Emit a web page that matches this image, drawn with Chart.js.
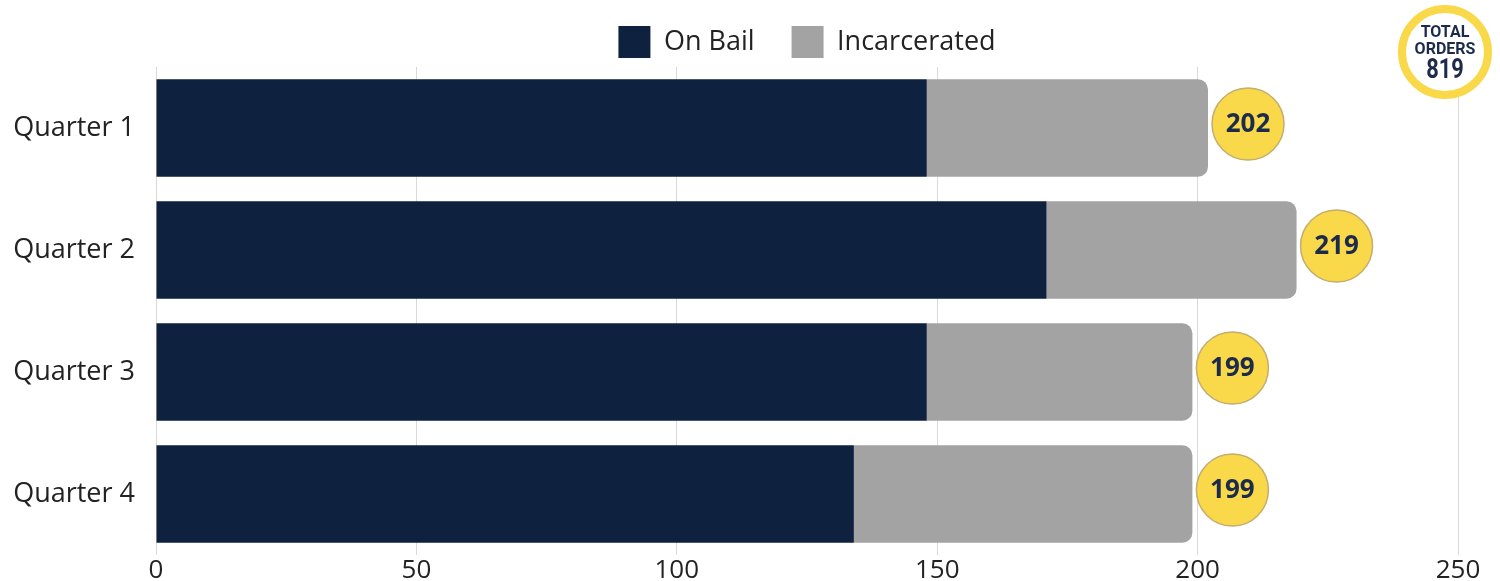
<!DOCTYPE html>
<html>
<head>
<meta charset="utf-8">
<title>Orders by quarter</title>
<script src="https://cdn.jsdelivr.net/npm/chart.js@4"></script>
<style>
  html, body { margin: 0; padding: 0; background: #fff; }
</style>
</head>
<body>
<canvas id="ordersChart" width="1500" height="581"></canvas>
<script>
const categories = ["Quarter 1", "Quarter 2", "Quarter 3", "Quarter 4"];
const onBail = [148, 171, 148, 134];
const incarcerated = [54, 48, 51, 65];
const axisMin = 0;
const axisMax = 250;
const axisStep = 50;

const NAVY = "#0e213f";
const GREY = "#a3a3a3";
const YELLOW = "#f9d94a";
const INK = "#1c2b4b";
const FONT = "'Open Sans', sans-serif";

// yellow bubble with the quarter total, just past the end of each bar
const totalBubbles = {
    id: "totalBubbles",
    afterDatasetsDraw(chart) {
        const ctx = chart.ctx;
        const xScale = chart.scales.x;
        const yScale = chart.scales.y;
        ctx.save();
        categories.forEach((cat, i) => {
            const total = onBail[i] + incarcerated[i];
            const cx = xScale.getPixelForValue(total) + 40;
            const cy = yScale.getPixelForValue(i) - 4;
            ctx.beginPath();
            ctx.arc(cx, cy, 36, 0, Math.PI * 2);
            ctx.fillStyle = YELLOW;
            ctx.fill();
            ctx.lineWidth = 1.5;
            ctx.strokeStyle = "#c4ad6e";
            ctx.stroke();
            ctx.fillStyle = INK;
            ctx.font = "bold 26px " + FONT;
            ctx.textAlign = "center";
            ctx.textBaseline = "middle";
            ctx.fillText(String(total), cx, cy + 1);
        });
        ctx.restore();
    },
};

// ring badge with the grand total, sitting on top of the last gridline
const grandTotal = {
    id: "grandTotal",
    afterDraw(chart) {
        const ctx = chart.ctx;
        const sum = onBail.concat(incarcerated).reduce((a, b) => a + b, 0);
        const cx = chart.scales.x.getPixelForValue(axisMax) - 13;
        const cy = 52;
        ctx.save();
        ctx.beginPath();
        ctx.arc(cx, cy, 43, 0, Math.PI * 2);
        ctx.fillStyle = "#fff";
        ctx.fill();
        ctx.lineWidth = 8;
        ctx.strokeStyle = YELLOW;
        ctx.stroke();
        ctx.fillStyle = INK;
        ctx.textAlign = "center";
        ctx.textBaseline = "middle";
        ctx.font = "bold 16px Roboto, sans-serif";
        ctx.fillText("TOTAL", cx, cy - 19);
        ctx.fillText("ORDERS", cx, cy - 2);
        ctx.translate(cx, cy + 19);
        ctx.scale(0.78, 1);
        ctx.font = "bold 28px Roboto, sans-serif";
        ctx.fillText(String(sum), 0, 0);
        ctx.restore();
    },
};

// centre the legend over the plot area rather than the whole canvas
const legendOverPlot = {
    id: "legendOverPlot",
    afterLayout(chart) {
        const lg = chart.legend;
        lg.left += chart.chartArea.left - lg.left;
    },
};

const ctx = document.getElementById("ordersChart");
new Chart(ctx, {
    type: "bar",
    data: {
        labels: categories,
        datasets: [
            {
                label: "On Bail",
                data: onBail,
                backgroundColor: NAVY,
                borderWidth: 0,
                borderSkipped: false,
                barPercentage: 0.8,
                categoryPercentage: 1,
            },
            {
                label: "Incarcerated",
                data: incarcerated,
                backgroundColor: GREY,
                borderWidth: 0,
                borderSkipped: false,
                borderRadius: { topLeft: 0, bottomLeft: 0, topRight: 10, bottomRight: 10 },
                barPercentage: 0.8,
                categoryPercentage: 1,
            },
        ],
    },
    options: {
        indexAxis: "y",
        responsive: false,
        animation: false,
        events: [],
        layout: {
            padding: { top: -11, left: 0, right: 42, bottom: 0 },
        },
        scales: {
            x: {
                stacked: true,
                min: axisMin,
                max: axisMax,
                ticks: {
                    stepSize: axisStep,
                    color: "#222",
                    padding: 0,
                    font: { family: FONT, size: 26 },
                },
                grid: { color: "#d9d9d9", drawTicks: false },
                border: { display: false },
                afterFit(scale) {
                    scale.height = 26;
                },
            },
            y: {
                stacked: true,
                grid: { display: false, drawTicks: false },
                border: { display: false },
                ticks: {
                    color: "#222",
                    padding: 21,
                    font: { family: FONT, size: 27 },
                },
                afterFit(scale) {
                    scale.width = 156;
                    scale.paddingTop = 0;
                    scale.paddingBottom = 0;
                },
            },
        },
        plugins: {
            legend: {
                position: "top",
                maxHeight: 78,
                labels: {
                    boxWidth: 32,
                    boxHeight: 32,
                    padding: 37,
                    color: "#222",
                    font: { family: FONT, size: 27 },
                },
            },
            title: { display: false },
            tooltip: { enabled: false },
        },
    },
    plugins: [totalBubbles, grandTotal, legendOverPlot],
});
</script>
</body>
</html>
